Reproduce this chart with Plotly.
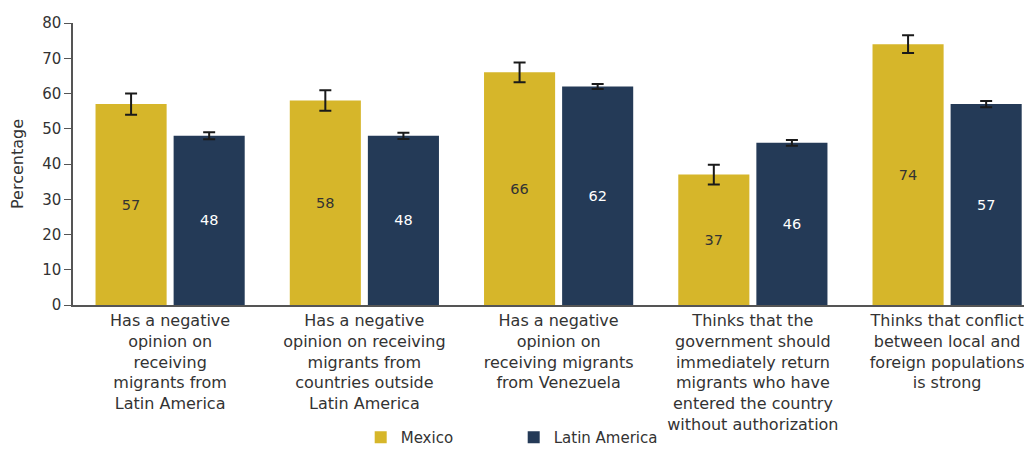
import plotly.graph_objects as go

categories = [
    "Has a negative<br>opinion on<br>receiving<br>migrants from<br>Latin America",
    "Has a negative<br>opinion on receiving<br>migrants from<br>countries outside<br>Latin America",
    "Has a negative<br>opinion on<br>receiving migrants<br>from Venezuela",
    "Thinks that the<br>government should<br>immediately return<br>migrants who have<br>entered the country<br>without authorization",
    "Thinks that conflict<br>between local and<br>foreign populations<br>is strong",
]
mexico = [57, 58, 66, 37, 74]
mexico_err = [3, 2.9, 2.8, 2.8, 2.5]
latam = [48, 48, 62, 46, 57]
latam_err = [1.0, 0.9, 0.7, 0.8, 0.9]
y_ticks = [0, 10, 20, 30, 40, 50, 60, 70, 80]

FONT = "DejaVu Sans"
x_idx = list(range(len(categories)))

fig = go.Figure()
fig.add_trace(go.Bar(
    x=x_idx, y=mexico, name="Mexico",
    marker=dict(color="#D6B62A", line=dict(width=0)),
    width=0.366, offset=-0.384,
    text=[str(v) for v in mexico], textposition="inside",
    insidetextanchor="middle",
    textfont=dict(color="#333333", size=14.5, family=FONT),
    error_y=dict(type="data", array=mexico_err, color="#1a1a1a", thickness=2, width=6),
))
fig.add_trace(go.Bar(
    x=x_idx, y=latam, name="Latin America",
    marker=dict(color="#243A57", line=dict(width=0)),
    width=0.366, offset=0.018,
    text=[str(v) for v in latam], textposition="inside",
    insidetextanchor="middle",
    textfont=dict(color="#ffffff", size=14.5, family=FONT),
    error_y=dict(type="data", array=latam_err, color="#1a1a1a", thickness=2, width=6),
))

# page has an 8px body margin, so the figure is sized/offset to compensate
fig.update_layout(
    width=1024, height=441,
    margin=dict(l=65, r=0, t=15, b=144, autoexpand=False),
    paper_bgcolor="white", plot_bgcolor="white",
    font=dict(family=FONT, color="#333333"),
    showlegend=True,
    legend=dict(
        orientation="h", x=0.300, xanchor="left",
        yref="container", y=0.026, yanchor="middle",
        font=dict(size=15, color="#333333", family=FONT),
        entrywidth=108, entrywidthmode="pixels",
        traceorder="normal", bgcolor="rgba(0,0,0,0)",
    ),
    xaxis=dict(
        tickmode="array", tickvals=x_idx, ticktext=categories,
        range=[-0.5, 4.437], automargin=False,
        showline=True, linecolor="#555555", linewidth=1.5,
        ticks="", tickfont=dict(size=16, color="#333333", family=FONT),
        showgrid=False, zeroline=False, fixedrange=True,
    ),
    yaxis=dict(
        range=[0, 80], tickvals=y_ticks, automargin=False,
        showline=True, linecolor="#555555", linewidth=1.5,
        ticks="outside", ticklen=7, tickcolor="#555555", tickwidth=1,
        tickfont=dict(size=15, color="#333333", family=FONT),
        title=dict(text="Percentage", font=dict(size=16, color="#333333", family=FONT)),
        showgrid=False, zeroline=False,
    ),
)

fig.write_html("out.html")
